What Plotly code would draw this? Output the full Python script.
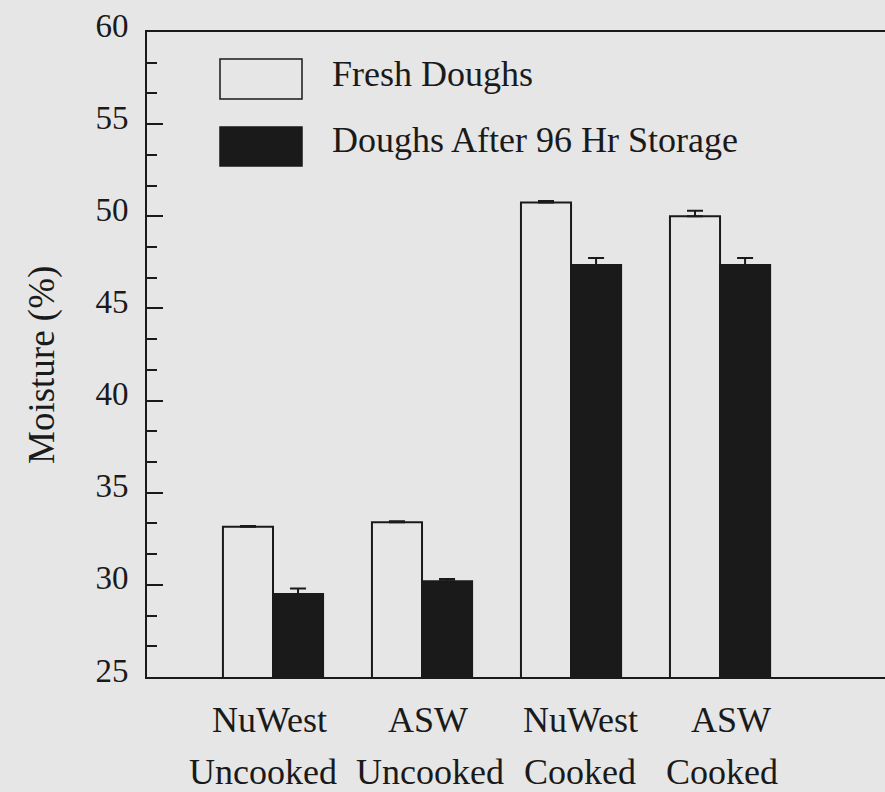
import plotly.graph_objects as go

# ---- data ----
categories = ["NuWest Uncooked", "ASW Uncooked", "NuWest Cooked", "ASW Cooked"]
label_line1 = ["NuWest", "ASW", "NuWest", "ASW"]
label_line2 = ["Uncooked", "Uncooked", "Cooked", "Cooked"]
series_names = ["Fresh Doughs", "Doughs After 96 Hr Storage"]
fresh = [33.15, 33.4, 50.75, 50.0]
fresh_err = [0.04, 0.05, 0.08, 0.3]
stored = [29.5, 30.2, 47.35, 47.35]
stored_err = [0.3, 0.12, 0.38, 0.38]
y_ticks = [25, 30, 35, 40, 45, 50, 55, 60]

# ---- style ----
BG = "#e6e6e6"
INK = "#1a1a1a"
FONT = "Liberation Serif"
W, H = 885, 792
L, R, T, B = 147, 0, 32, 115
line1_xshift = [-4, 6, 9, 11]
line2_xshift = [-10, 8, 9, 2]

def px_x(p):
    return (p - L) / (W - L - R)

def px_y(p):
    return (H - B - p) / (H - T - B)

x_idx = list(range(len(categories)))

fig = go.Figure()
fig.add_trace(go.Bar(
    x=x_idx, y=fresh, name=series_names[0],
    marker=dict(color=BG, line=dict(color=INK, width=2)),
    error_y=dict(type="data", symmetric=False, array=fresh_err,
                 arrayminus=[0] * len(fresh), color=INK, thickness=2, width=8),
    showlegend=False,
))
fig.add_trace(go.Bar(
    x=x_idx, y=stored, name=series_names[1],
    marker=dict(color=INK, line=dict(color=INK, width=2)),
    error_y=dict(type="data", symmetric=False, array=stored_err,
                 arrayminus=[0] * len(stored), color=INK, thickness=2, width=8),
    showlegend=False,
))

# category labels (two lines, spaced as in the reference)
for i in x_idx:
    fig.add_annotation(x=i, y=0, xref="x", yref="paper", text=label_line1[i],
                       showarrow=False, yanchor="middle", yshift=-43,
                       xshift=line1_xshift[i],
                       font=dict(family=FONT, size=36, color=INK))
    fig.add_annotation(x=i, y=0, xref="x", yref="paper", text=label_line2[i],
                       showarrow=False, yanchor="middle", yshift=-95,
                       xshift=line2_xshift[i],
                       font=dict(family=FONT, size=36, color=INK))

# manual legend
legend_boxes = [(220, 59, 302, 99, BG), (220, 127, 302, 166, INK)]
legend_text_y = [74, 140]
for (x0, y0, x1, y1, fc), ty, name in zip(legend_boxes, legend_text_y, series_names):
    fig.add_shape(type="rect", xref="paper", yref="paper",
                  x0=px_x(x0), x1=px_x(x1), y0=px_y(y1), y1=px_y(y0),
                  fillcolor=fc, line=dict(color=INK, width=1.5))
    fig.add_annotation(x=px_x(330), y=px_y(ty), xref="paper", yref="paper",
                       text=name, showarrow=False, xanchor="left", yanchor="middle",
                       font=dict(family=FONT, size=36, color=INK))

# y-axis title
fig.add_annotation(x=px_x(42), y=px_y(365), xref="paper", yref="paper",
                   text="Moisture (%)", textangle=-90, showarrow=False,
                   xanchor="center", yanchor="middle",
                   font=dict(family=FONT, size=37, color=INK))

fig.update_layout(
    width=W, height=H, autosize=False,
    margin=dict(l=L, r=R, t=T, b=B, pad=0),
    paper_bgcolor=BG, plot_bgcolor=BG,
    barmode="group", bargap=0.328, bargroupgap=0,
    font=dict(family=FONT, size=33, color=INK),
    showlegend=False,
)
fig.update_xaxes(
    range=[-0.8456, 4.107], showticklabels=False, ticks="",
    showline=True, linecolor=INK, linewidth=2, mirror=True,
    showgrid=False, zeroline=False,
)
fig.update_yaxes(
    range=[25, 60], tickvals=y_ticks, ticktext=[str(v) for v in y_ticks],
    ticks="inside", ticklen=16, tickwidth=2, tickcolor=INK,
    minor=dict(ticks="inside", ticklen=10, tickwidth=2, tickcolor=INK,
               tick0=25, dtick=5 / 3),
    showline=True, linecolor=INK, linewidth=2,
    showgrid=False, zeroline=False,
    ticklabelstandoff=10, ticklabelshift=-7,
    tickfont=dict(family=FONT, size=33, color=INK),
)

fig.write_html("out.html", config={"displayModeBar": False},
               post_script="document.body.style.margin='0px';document.body.style.overflow='hidden';")
